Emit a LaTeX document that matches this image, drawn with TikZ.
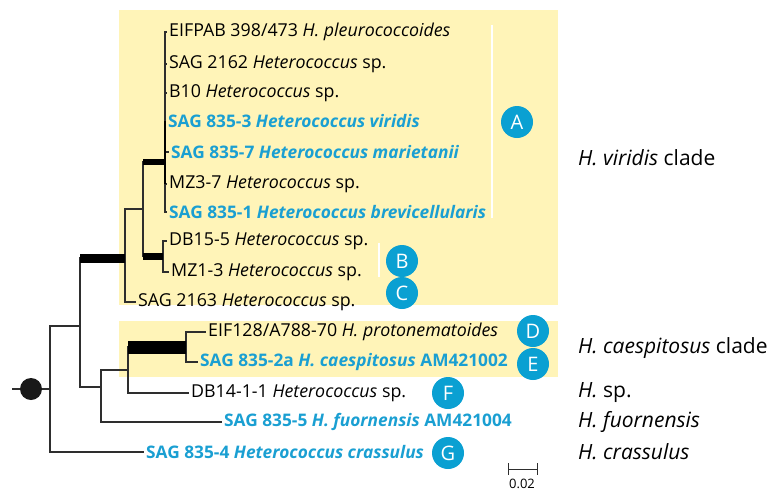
\documentclass[tikz,border=0pt]{standalone}
\usepackage{fontspec}
\setmainfont{Open Sans}
\usetikzlibrary{calc}
\definecolor{cladeyellow}{HTML}{FFF4B8}
\definecolor{strainblue}{HTML}{1A9FD2}
\definecolor{badgeblue}{HTML}{0AA0D2}
\definecolor{branchgray}{HTML}{2E2E2E}
\tikzset{
  leaf/.style={anchor=west,inner sep=2pt,font=\fontsize{17.8}{19}\selectfont},
  leafblue/.style={leaf,text=strainblue,font=\fontsize{17.3}{19}\selectfont\bfseries},
  badge/.style={circle,fill=badgeblue,text=white,minimum size=32pt,inner sep=0pt,
    font=\fontsize{20}{21}\selectfont},
  cladename/.style={anchor=west,inner sep=0pt,font=\fontsize{21}{22}\selectfont},
  branch/.style={draw=branchgray,line width=1.2pt},
  bar/.style={draw=black,line width=#1},
}
\begin{document}
\begin{tikzpicture}[x=1pt,y=-1pt]
    \useasboundingbox (0,0) rectangle (773,493);
    % clade backgrounds
    \fill[cladeyellow] (119,10) rectangle (558,305);
    \fill[cladeyellow] (119,321) rectangle (558,377);
    \draw[white,line width=2pt] (492,25) -- (492,218);
    \draw[white,line width=2pt] (379,243) -- (379,277);
    %% leaves
    \node[leaf] (pleu) at (167,32) {EIFPAB 398/473 \textit{H. pleurococcoides}};
    \node[leaf] (s2162) at (167,64) {SAG 2162 \textit{Heterococcus} sp.};
    \node[leaf] (b10) at (167,93) {B10 \textit{Heterococcus} sp.};
    \node[leafblue] (viri) at (166,121) {SAG 835-3 \textit{Heterococcus viridis}};
    \node[leafblue] (mari) at (169,152) {SAG 835-7 \textit{Heterococcus marietanii}};
    \node[leaf] (mz37) at (167,184) {MZ3-7 \textit{Heterococcus} sp.};
    \node[leafblue] (brev) at (167,212) {SAG 835-1 \textit{Heterococcus brevicellularis}};
    \node[leaf] (db155) at (167,241) {DB15-5 \textit{Heterococcus} sp.};
    \node[leaf] (mz13) at (169,272) {MZ1-3 \textit{Heterococcus} sp.};
    \node[leaf] (s2163) at (136,302) {SAG 2163 \textit{Heterococcus} sp.};
    \node[leaf] (prot) at (206,332) {EIF128/A788-70 \textit{H. protonematoides}};
    \node[leafblue] (caes) at (198,362) {SAG 835-2a \textit{H. caespitosus} AM421002};
    \node[leaf] (db14) at (189,393) {DB14-1-1 \textit{Heterococcus} sp.};
    \node[leafblue] (fuor) at (222,422) {SAG 835-5 \textit{H. fuornensis} AM421004};
    \node[leafblue] (cras) at (144,452) {SAG 835-4 \textit{Heterococcus crassulus}};
    %% inner nodes
    \coordinate (root) at (50,389);
    \coordinate (Q) at (80,326);
    \coordinate (P) at (125,258);
    \coordinate (X) at (143,209);
    \coordinate (nA) at (165,162);
    \coordinate (nB) at (163,256);
    \coordinate (R) at (101,387);
    \coordinate (S) at (128,370);
    \coordinate (T) at (186,347);
    %% branches
    \draw[branch] (root) |- (Q) (root) |- (cras.west);
    \draw[branch] (Q) |- (P) (Q) |- (R);
    \draw[branch] (P) |- (X) (P) |- (s2163.west);
    \draw[branch] (X) |- (nA) (X) |- (nB);
    \foreach \lf in {pleu,s2162,b10,viri,mari,mz37,brev}
      \draw[branch] (nA) |- (\lf.west);
    \draw[branch] (nB) |- (db155.west) (nB) |- (mz13.west);
    \draw[branch] (R) |- (S) (R) |- (fuor.west);
    \draw[branch] (S) |- (T) (S) |- (db14.west);
    \draw[branch] (T) |- (prot.west) (T) |- (caes.west);
    % support bars
    \draw[bar=9pt] (Q|-P) -- (P);
    \draw[bar=6pt] (X|-nA) -- (nA);
    \draw[bar=7pt] (X|-nB) -- (nB);
    \draw[bar=13pt] (S|-T) -- (T);
    \draw[bar=2.6pt] (nA|-viri.west) -- (nA|-mz37.west);
    % root
    \coordinate (stub) at (12,389);
    \draw[branch] (stub) -- (root);
    \node[circle,fill=black!90,minimum size=22pt,inner sep=0pt] (rootdot) at (31,389) {};
    %% badges
    \node[badge] (bA) at (517,122) {A};
    \node[badge] (bB) at (402,261) {B};
    \node[badge] (bC) at (402,293) {C};
    \node[badge] (bD) at (533,331) {D};
    \node[badge] (bE) at (533,364) {E};
    \node[badge] (bF) at (448,393) {F};
    \node[badge] (bG) at (448,453) {G};
    %% clade names
    \node[cladename] (cvir) at (578,158) {\textit{H. viridis} clade};
    \node[cladename] (ccae) at (578,348) {\textit{H. caespitosus} clade};
    \node[cladename] (csp) at (578,393) {\textit{H.} sp.};
    \node[cladename] (cfuo) at (578,422) {\textit{H. fuornensis}};
    \node[cladename] (ccra) at (578,452) {\textit{H. crassulus}};
    % scale
    \coordinate (sl) at (508,469);
    \coordinate (sr) at (537,469);
    \draw[branch,line width=1pt] (sl) -- (sr) ($(sl)+(0,-6)$) -- ($(sl)+(0,6)$) ($(sr)+(0,-6)$) -- ($(sr)+(0,6)$);
    \node[font=\fontsize{13}{14}\selectfont,inner sep=0pt] (sc) at (522,484) {0.02};
\end{tikzpicture}
\end{document}
